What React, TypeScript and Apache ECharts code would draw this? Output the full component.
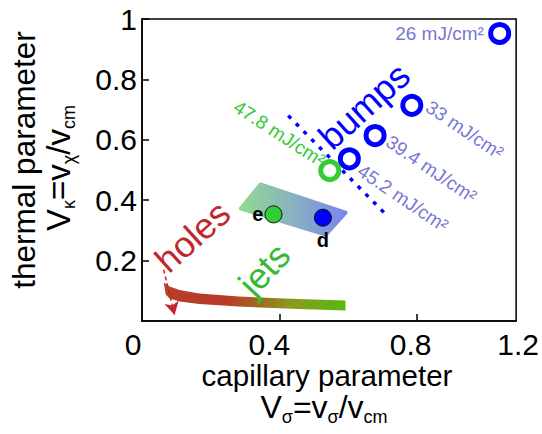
import React, { useEffect, useRef } from "react";
import * as echarts from "echarts";

const FONT = '"Liberation Sans", Arial, Helvetica, sans-serif';

// ---- axes ----
const xLabelValues = [0, 0.4, 0.8, 1.09];
const xLabelTexts = ["0", "0.4", "0.8", "1.2"];
const xTickValues = [0.4, 0.8];
const xMin = 0;
const xMax = 1.09;
const yMin = 0;
const yMax = 1;
const yInterval = 0.2;

// ---- experiments (open circles) ----
const fluenceNames = ["26 mJ/cm²", "33 mJ/cm²", "39.4 mJ/cm²", "45.2 mJ/cm²", "47.8 mJ/cm²"];
const fluenceX = [1.042, 0.786, 0.679, 0.604, 0.547];
const fluenceY = [0.952, 0.714, 0.614, 0.537, 0.498];
const fluenceColors = ["#0000ff", "#0000ff", "#0000ff", "#0000ff", "#33cc33"];

// fluence label anchors (data coords) and rotation
const fluenceLabelX = [0.996, 0.94, 0.843, 0.76, 0.4];
const fluenceLabelY = [0.952, 0.633, 0.503, 0.407, 0.621];
const fluenceLabelRot = [0, -34, -34, -34, -33];
const fluenceLabelAlign = ["right", "center", "center", "center", "center"];
const fluenceLabelColors = ["#7777d6", "#7777d6", "#7777d6", "#7777d6", "#33cc33"];

// ---- simulations (filled circles) ----
const simNames = ["e", "d"];
const simX = [0.383, 0.527];
const simY = [0.353, 0.342];
const simColors = ["#33cc33", "#0000ff"];

// ---- shaded simulation region ----
const regionX = [0.288, 0.345, 0.593, 0.535];
const regionY = [0.3725, 0.452, 0.359, 0.286];

// ---- holes / jets band ----
const bandTopX = [0.0633, 0.0806, 0.1094, 0.1669, 0.282, 0.4547, 0.5928];
const bandTopY = [0.1275, 0.1142, 0.1026, 0.0911, 0.0811, 0.0728, 0.0679];
const bandBottomX = [0.5928, 0.4547, 0.282, 0.1669, 0.1094, 0.0806, 0.0691];
const bandBottomY = [0.0348, 0.0397, 0.048, 0.0563, 0.0646, 0.0745, 0.0877];

// ---- bumps boundary (dashed) ----
const boundaryX = [0.426, 0.705];
const boundaryY = [0.68, 0.359];

// ---- holes arrow ----
const arrowX = [0.063, 0.095];
const arrowY = [0.17, 0.02];

// ---- regime labels ----
const regimeNames = ["bumps", "holes", "jets"];
const regimeX = [0.647, 0.147, 0.356];
const regimeY = [0.712, 0.28, 0.171];
const regimeRot = [42, 42, 47];
const regimeColors = ["#0000ff", "#c1272d", "#33bb33"];

type Seg = { t: string; s: number; sub?: boolean };

const xTitle1: Seg[] = [{ t: "capillary parameter", s: 29.5 }];
const xTitle2: Seg[] = [
  { t: "V", s: 32 },
  { t: "σ", s: 18, sub: true },
  { t: "=v", s: 32 },
  { t: "σ", s: 18, sub: true },
  { t: "/v", s: 32 },
  { t: "cm", s: 18, sub: true },
];
const yTitle1: Seg[] = [{ t: "thermal parameter", s: 31.5 }];
const yTitle2: Seg[] = [
  { t: "V", s: 33 },
  { t: "κ", s: 18, sub: true },
  { t: "=v", s: 33 },
  { t: "χ", s: 18, sub: true },
  { t: "/v", s: 33 },
  { t: "cm", s: 18, sub: true },
];

let ctx: CanvasRenderingContext2D | null = null;
function measure(text: string, size: number): number {
  if (!ctx) ctx = document.createElement("canvas").getContext("2d");
  if (!ctx) return text.length * size * 0.55;
  ctx.font = `${size}px "Liberation Sans"`;
  return ctx.measureText(text).width;
}

function lineElements(segs: Seg[], baseline: number) {
  const widths = segs.map((g) => measure(g.t, g.s));
  const total = widths.reduce((a, b) => a + b, 0);
  let x = -total / 2;
  return segs.map((g, i) => {
    const b = baseline + (g.sub ? 5 : 0);
    const el = {
      type: "text",
      x,
      y: b - 0.3465 * g.s,
      style: {
        text: g.t,
        fontSize: g.s,
        fontFamily: FONT,
        fill: "#000",
        align: "left",
        verticalAlign: "middle",
      },
    };
    x += widths[i];
    return el;
  });
}

const labelFont = { fontSize: 30, fontFamily: FONT, color: "#000" };

export default function App() {
  const ref = useRef<HTMLDivElement>(null);
  useEffect(() => {
    document.body.style.margin = "0";
    if (!ref.current) return;
    const chart = echarts.init(ref.current, null, { renderer: "svg" });

    const regionGradient = new echarts.graphic.LinearGradient(0, 0, 1, 0, [
      { offset: 0, color: "#92d892" },
      { offset: 0.5, color: "#88b2c0" },
      { offset: 1, color: "#7b86f0" },
    ]);
    const bandGradient = new echarts.graphic.LinearGradient(0, 0, 1, 0, [
      { offset: 0, color: "#b4402a" },
      { offset: 0.35, color: "#b93a28" },
      { offset: 0.7, color: "#8a9a1e" },
      { offset: 1, color: "#58b812" },
    ]);

    const option: any = {
      animation: false,
      backgroundColor: "#ffffff",
      grid: {
        left: 142,
        right: 21,
        top: 19,
        bottom: 113,
        show: true,
        borderColor: "#000",
        borderWidth: 1.5,
        backgroundColor: "transparent",
      },
      xAxis: {
        type: "value",
        min: xMin,
        max: xMax,
        splitLine: { show: false },
        axisLine: { show: true, lineStyle: { color: "#000", width: 1.5 } },
        axisTick: {
          show: true,
          inside: true,
          length: 7,
          customValues: xTickValues,
          lineStyle: { color: "#000", width: 1.5 },
        },
        axisLabel: {
          customValues: xLabelValues,
          formatter: (v: number) => {
            let best = 0;
            xLabelValues.forEach((lv, i) => {
              if (Math.abs(lv - v) < Math.abs(xLabelValues[best] - v)) best = i;
            });
            return `{l${best}|${xLabelTexts[best]}}`;
          },
          rich: {
            l0: { ...labelFont, padding: [0, 18, 0, 0] },
            l1: { ...labelFont, padding: [0, 20, 0, 0] },
            l2: { ...labelFont, padding: [0, 12, 0, 0] },
            l3: { ...labelFont, padding: [0, 0, 0, 4] },
          },
          ...labelFont,
          margin: 8,
        },
      },
      yAxis: {
        type: "value",
        min: yMin,
        max: yMax,
        interval: yInterval,
        splitLine: { show: false },
        axisLine: { show: true, lineStyle: { color: "#000", width: 1.5 } },
        axisTick: { show: true, inside: true, length: 7, lineStyle: { color: "#000", width: 1.5 } },
        axisLabel: {
          showMinLabel: false,
          ...labelFont,
          margin: 5,
        },
      },
      series: [
        {
          type: "custom",
          name: "band",
          z: 1,
          clip: false,
          data: [[0, 0]],
          renderItem: (_p: any, api: any) => {
            const pts: number[][] = [];
            bandTopX.forEach((x, i) => pts.push(api.coord([x, bandTopY[i]])));
            bandBottomX.forEach((x, i) => pts.push(api.coord([x, bandBottomY[i]])));
            return { type: "polygon", shape: { points: pts }, style: { fill: bandGradient } };
          },
        },
        {
          type: "custom",
          name: "region",
          z: 1,
          clip: false,
          data: [[0, 0]],
          renderItem: (_p: any, api: any) => {
            const pts = regionX.map((x, i) => api.coord([x, regionY[i]]));
            return {
              type: "polygon",
              shape: { points: pts },
              style: { fill: regionGradient, stroke: regionGradient, lineWidth: 4, lineJoin: "round" },
            };
          },
        },
        {
          type: "line",
          name: "boundary",
          z: 2,
          data: boundaryX.map((x, i) => [x, boundaryY[i]]),
          symbol: "none",
          lineStyle: { color: "#0000ff", width: 3.5, type: [4, 7] },
          silent: true,
        },
        {
          type: "line",
          name: "arrow",
          z: 2,
          data: [],
          markLine: {
            silent: true,
            symbol: ["none", "arrow"],
            symbolSize: [11, 13],
            label: { show: false },
            lineStyle: { color: "#c1272d", width: 1.5, type: [4, 3] },
            data: [[{ coord: [arrowX[0], arrowY[0]] }, { coord: [arrowX[1], arrowY[1]] }]],
          },
        },
        {
          type: "scatter",
          name: "experiments",
          z: 3,
          symbol: "circle",
          symbolSize: 18,
          data: fluenceX.map((x, i) => ({
            value: [x, fluenceY[i]],
            itemStyle: { color: "#ffffff", borderColor: fluenceColors[i], borderWidth: 5, opacity: 1 },
          })),
        },
        {
          type: "scatter",
          name: "simulations",
          z: 3,
          symbol: "circle",
          symbolSize: 17,
          data: simX.map((x, i) => ({
            value: [x, simY[i]],
            name: simNames[i],
            itemStyle: { color: simColors[i], borderColor: "#111", borderWidth: 1, opacity: 1 },
            label: {
              show: true,
              formatter: simNames[i],
              position: i === 0 ? "left" : "bottom",
              distance: i === 0 ? 1 : 3,
              fontSize: 20,
              fontWeight: "bold",
              fontFamily: FONT,
              color: "#000",
            },
          })),
        },
        {
          type: "scatter",
          name: "fluenceLabels",
          z: 4,
          symbolSize: 1,
          silent: true,
          data: fluenceLabelX.map((x, i) => ({
            value: [x, fluenceLabelY[i]],
            itemStyle: { color: "rgba(0,0,0,0)", opacity: 1 },
            label: {
              show: true,
              position: "inside",
              formatter: fluenceNames[i],
              rotate: fluenceLabelRot[i],
              align: fluenceLabelAlign[i],
              verticalAlign: "middle",
              fontSize: 19,
              fontFamily: FONT,
              color: fluenceLabelColors[i],
            },
          })),
        },
        {
          type: "scatter",
          name: "regimes",
          z: 5,
          symbolSize: 1,
          silent: true,
          data: regimeX.map((x, i) => ({
            value: [x, regimeY[i]],
            itemStyle: { color: "rgba(0,0,0,0)", opacity: 1 },
            label: {
              show: true,
              position: "inside",
              formatter: regimeNames[i],
              rotate: regimeRot[i],
              align: "center",
              verticalAlign: "middle",
              fontSize: 36,
              fontFamily: FONT,
              color: regimeColors[i],
            },
          })),
        },
      ],
      graphic: [
        { type: "group", x: 327, y: 0, children: lineElements(xTitle1, 386) },
        { type: "group", x: 324, y: 0, children: lineElements(xTitle2, 418) },
        { type: "group", x: 35, y: 160, rotation: Math.PI / 2, children: lineElements(yTitle1, 0) },
        { type: "group", x: 70, y: 168, rotation: Math.PI / 2, children: lineElements(yTitle2, 0) },
      ],
    };
    chart.setOption(option);
    return () => chart.dispose();
  }, []);
  return <div ref={ref} style={{ width: 542, height: 434 }} />;
}
